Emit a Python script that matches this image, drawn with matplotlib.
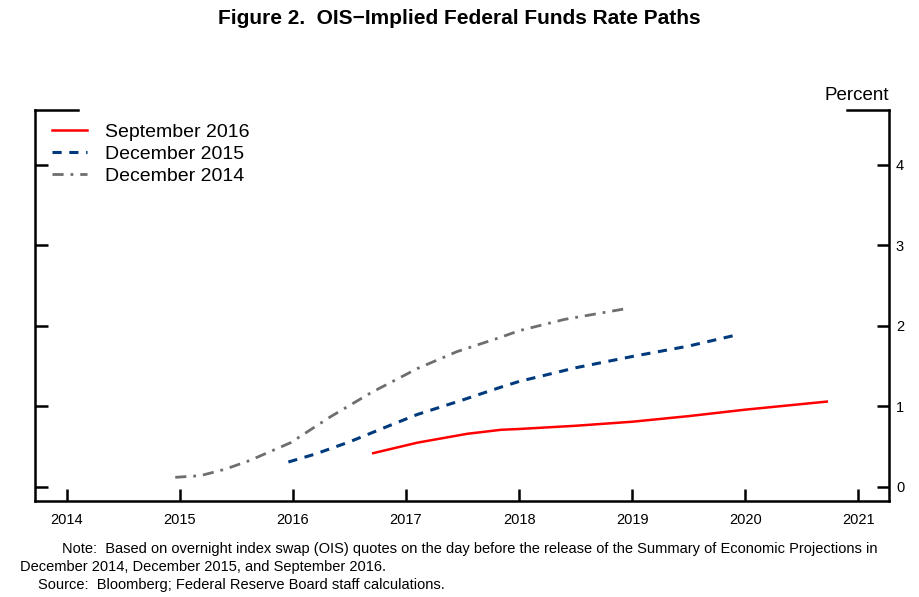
import matplotlib
matplotlib.use("Agg")
import matplotlib.pyplot as plt
from matplotlib.lines import Line2D

plt.rcParams['font.family'] = ['Liberation Sans', 'DejaVu Sans']

# Data (year, percent)
dec2014_x = [2014.96, 2015.18, 2015.40, 2015.62, 2015.98, 2016.33, 2016.69, 2017.10, 2017.45, 2017.84, 2018.00, 2018.40, 2018.97]
dec2014_y = [0.12, 0.14, 0.22, 0.33, 0.55, 0.87, 1.17, 1.47, 1.68, 1.86, 1.94, 2.08, 2.22]

dec2015_x = [2015.96, 2016.20, 2016.50, 2016.85, 2017.10, 2017.50, 2017.84, 2018.00, 2018.50, 2019.00, 2019.50, 2019.93]
dec2015_y = [0.31, 0.41, 0.56, 0.76, 0.90, 1.08, 1.24, 1.31, 1.48, 1.62, 1.75, 1.89]

sep2016_x = [2016.71, 2017.10, 2017.54, 2017.84, 2018.00, 2018.50, 2019.00, 2019.50, 2020.00, 2020.72]
sep2016_y = [0.42, 0.55, 0.66, 0.71, 0.72, 0.76, 0.81, 0.88, 0.96, 1.06]

x_ticks = [2014, 2015, 2016, 2017, 2018, 2019, 2020, 2021]
y_ticks = [0, 1, 2, 3, 4]

fig = plt.figure(figsize=(9.19, 5.97), dpi=100)
ax = fig.add_axes([35/919, 1-501/597, (889-35)/919, (501-110)/597])

ax.plot(sep2016_x, sep2016_y, color='#FF0000', lw=1.8, label='September 2016')
ax.plot(dec2015_x, dec2015_y, color='#003A7D', lw=2.2, ls=(0, (3, 2.5)), label='December 2015')
ax.plot(dec2014_x, dec2014_y, color='#6E6E6E', lw=2.0, ls=(0, (4, 2.5, 1, 2.5)), label='December 2014')

ax.set_xlim(2013.72, 2021.27)
ax.set_ylim(-0.174, 4.68)

ax.set_xticks(x_ticks)
ax.set_xticklabels([str(t) for t in x_ticks], fontsize=10.5)
ax.set_yticks(y_ticks)
ax.set_yticklabels([str(t) for t in y_ticks], fontsize=10.5)
ax.tick_params(axis='x', direction='in', length=9, width=1.8, pad=9)
ax.tick_params(axis='y', direction='in', length=9, width=1.8, left=True, right=True,
               labelleft=False, labelright=True, pad=5)

for s in ['left', 'right', 'bottom']:
    ax.spines[s].set_linewidth(1.8)
ax.spines['top'].set_visible(False)
ax.add_line(Line2D([0, 0.05], [1, 1], transform=ax.transAxes, color='black', lw=1.8,
                   clip_on=False, solid_capstyle='projecting'))
ax.add_line(Line2D([0.951, 1], [1, 1], transform=ax.transAxes, color='black', lw=1.8,
                   clip_on=False, solid_capstyle='projecting'))

leg = ax.legend(loc='upper left', bbox_to_anchor=(0.004, 1.0), frameon=False, fontsize=14,
                handlelength=1.8, handletextpad=0.9, labelspacing=0.22, borderaxespad=0.3)

fig.text(0.5, 1-18/597, 'Figure 2.  OIS\u2212Implied Federal Funds Rate Paths', ha='center', va='center',
         fontsize=15, fontweight='bold')
fig.text(889/919, 1-95/597, 'Percent', ha='right', va='center', fontsize=13.5)

note_family = ['Liberation Sans', 'DejaVu Sans']
fig.text(62/919, 1-549/597, 'Note:  Based on overnight index swap (OIS) quotes on the day before the release of the Summary of Economic Projections in',
         ha='left', va='center', fontsize=10.5, family=note_family)
fig.text(20/919, 1-567/597, 'December 2014, December 2015, and September 2016.',
         ha='left', va='center', fontsize=10.5, family=note_family)
fig.text(38/919, 1-585/597, 'Source:  Bloomberg; Federal Reserve Board staff calculations.',
         ha='left', va='center', fontsize=10.5, family=note_family)

fig.savefig('out.png', dpi=100)
